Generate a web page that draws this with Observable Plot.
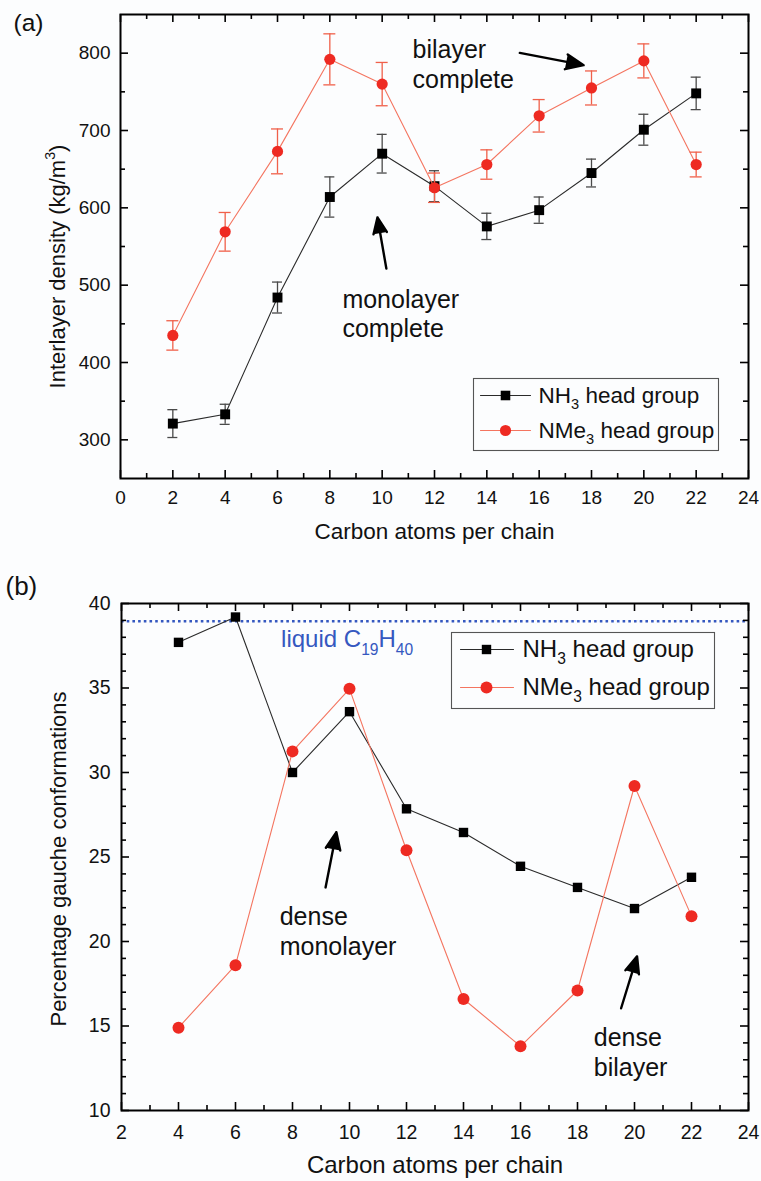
<!DOCTYPE html>
<html>
<head>
<meta charset="utf-8">
<script src="https://cdn.jsdelivr.net/npm/d3@7"></script>
<script src="https://cdn.jsdelivr.net/npm/@observablehq/plot@0.6"></script>
<style>
  body { margin: 0; background: #fcfdfe; }
  #chart { width: 761px; }
  #chart svg { display: block; }
</style>
</head>
<body>
<div id="chart"></div>
<script>
// ---- Panel (a): interlayer density vs. chain length ----
const carbonA = [2, 4, 6, 8, 10, 12, 14, 16, 18, 20, 22];
const densityNH3 = [321, 333, 484, 614, 670, 628, 576, 597, 645, 701, 748];
const errDensityNH3 = [18, 13, 20, 26, 25, 20, 17, 17, 18, 20, 21];
const densityNMe3 = [435, 569, 673, 792, 760, 626, 656, 719, 755, 790, 656];
const errDensityNMe3 = [19, 25, 29, 33, 28, 19, 19, 21, 22, 22, 16];

// ---- Panel (b): gauche conformations vs. chain length ----
const carbonB = [4, 6, 8, 10, 12, 14, 16, 18, 20, 22];
const gaucheNH3 = [37.7, 39.2, 30.0, 33.6, 27.85, 26.45, 24.45, 23.2, 21.95, 23.8];
const gaucheNMe3 = [14.9, 18.6, 31.25, 34.95, 25.4, 16.6, 13.8, 17.1, 29.2, 21.5];
const liquidGauche = 38.95;

// Series labels (_{..} = subscript, ^{..} = superscript)
const seriesLabels = ["NH_{3} head group", "NMe_{3} head group"];

// Axis ticks
const xMajorA = [0, 2, 4, 6, 8, 10, 12, 14, 16, 18, 20, 22, 24];
const xMinorA = [1, 3, 5, 7, 9, 11, 13, 15, 17, 19, 21, 23];
const yMajorA = [300, 400, 500, 600, 700, 800];
const yMinorA = [350, 450, 550, 650, 750];
const xMajorB = [2, 4, 6, 8, 10, 12, 14, 16, 18, 20, 22, 24];
const xMinorB = [3, 5, 7, 9, 11, 13, 15, 17, 19, 21, 23];
const yMajorB = [10, 15, 20, 25, 30, 35, 40];
const yMinorB = [11, 12, 13, 14, 16, 17, 18, 19, 21, 22, 23, 24, 26, 27, 28, 29, 31, 32, 33, 34, 36, 37, 38, 39];

// Annotations (in data units)
const notesA = [
  {text: "bilayer\ncomplete", x: 11.16, y: 755.6},
  {text: "monolayer\ncomplete", x: 8.48, y: 432.5}
];
const arrowsA = [
  {x1: 15.26, y1: 800.4, x2: 17.7, y2: 784.5},
  {x1: 10.16, y1: 521.5, x2: 9.82, y2: 587.6}
];
const notesB = [
  {text: "dense\nmonolayer", x: 7.55, y: 19.18},
  {text: "dense\nbilayer", x: 18.57, y: 12.05}
];
const arrowsB = [
  {x1: 9.16, y1: 23.2, x2: 9.54, y2: 26.47},
  {x1: 19.53, y1: 16.05, x2: 20.09, y2: 19.12}
];
const liquidNote = [{text: "liquid C_{19}H_{40}", x: 7.6, y: 37.4}];

// ---- styling ----
const FONT = "'Liberation Sans', Arial, Helvetica, sans-serif";
const BLACK_LINE = "#2a2a2a", BLACK_ERR = "#4a4a4a", BLACK_DOT = "#000000";
const RED_LINE = "#f47560", RED_ERR = "#f0604a", RED_DOT = "#ee2a22";
const BLUE = "#3558c0";

const rows = (xs, ys, es) => xs.map((x, i) => ({x, y: ys[i], e: es ? es[i] : 0}));

// Inward tick marks on all four sides of the frame
function innerTicks(xs, ys, len, W, H) {
  const s = {stroke: "#000", strokeWidth: 1.6};
  return [
    Plot.tickX(xs, {x: d => d, insetTop: H - len, ...s}),
    Plot.tickX(xs, {x: d => d, insetBottom: H - len, ...s}),
    Plot.tickY(ys, {y: d => d, insetRight: W - len, ...s}),
    Plot.tickY(ys, {y: d => d, insetLeft: W - len, ...s})
  ];
}

// A plain straight segment for legend keys
const segment = {draw(ctx, l) { ctx.moveTo(0, 0); ctx.lineTo(0, -l); }};

function legend(box, rowsDy, key, fontSize) {
  const marks = [Plot.frame({...box, stroke: "#555", strokeWidth: 1.1})];
  const styles = [
    {line: BLACK_LINE, dot: BLACK_DOT, symbol: "square", r: key.rSq},
    {line: RED_LINE, dot: RED_DOT, symbol: "circle", r: key.rCi}
  ];
  seriesLabels.forEach((label, i) => {
    const st = styles[i];
    marks.push(
      Plot.vector([label], {frameAnchor: "top-left", dx: key.lineDx, dy: rowsDy[i], length: key.lineLen,
        rotate: 90, anchor: "start", shape: segment, stroke: st.line, strokeWidth: 1.1}),
      Plot.dot([label], {frameAnchor: "top-left", dx: key.dotDx, dy: rowsDy[i], symbol: st.symbol,
        r: st.r, fill: st.dot}),
      Plot.text([label], {frameAnchor: "top-left", dx: key.textDx, dy: rowsDy[i], text: d => d,
        textAnchor: "start", lineAnchor: "middle", fontSize, fill: "#111"})
    );
  });
  return marks;
}

function series(data, line, err, dot, symbol, r, cap) {
  const m = [Plot.line(data, {x: "x", y: "y", stroke: line, strokeWidth: 1.1})];
  if (err) {
    m.push(
      Plot.ruleX(data, {x: "x", y1: d => d.y - d.e, y2: d => d.y + d.e, stroke: err, strokeWidth: 1.3}),
      Plot.ruleY(data, {x1: "x", x2: "x", y: d => d.y + d.e, insetLeft: -cap, insetRight: -cap, stroke: err, strokeWidth: 1.3}),
      Plot.ruleY(data, {x1: "x", x2: "x", y: d => d.y - d.e, insetLeft: -cap, insetRight: -cap, stroke: err, strokeWidth: 1.3})
    );
  }
  m.push(Plot.dot(data, {x: "x", y: "y", symbol, r, fill: dot}));
  return m;
}

// Annotation arrows with solid heads
const pointer = data => Plot.arrow(data, {x1: "x1", y1: "y1", x2: "x2", y2: "y2",
  stroke: "#000", fill: "#000", strokeWidth: 2.4, headLength: 12, headAngle: 46});

// Turn _{..} and ^{..} into real sub/superscript tspans
function applyScripts(root) {
  const NS = "http://www.w3.org/2000/svg";
  const scale = 0.65, subShift = 0.3, supShift = -0.42;
  root.querySelectorAll("text, tspan").forEach(el => {
    if (el.children.length) return;
    const s = el.textContent;
    if (!/[_^]\{/.test(s)) return;
    el.textContent = "";
    const re = /([_^])\{([^}]*)\}/g;
    let last = 0, m, pending = 0;
    const plain = str => {
      if (!str) return;
      const t = document.createElementNS(NS, "tspan");
      if (pending) t.setAttribute("dy", `${-pending}em`);
      pending = 0;
      t.textContent = str;
      el.appendChild(t);
    };
    while ((m = re.exec(s))) {
      plain(s.slice(last, m.index));
      const shift = m[1] === "_" ? subShift : supShift;
      const t = document.createElementNS(NS, "tspan");
      t.style.fontSize = `${scale * 100}%`;
      t.setAttribute("dy", `${(shift - pending) / scale}em`);
      pending = shift;
      t.textContent = m[2];
      el.appendChild(t);
      last = re.lastIndex;
    }
    plain(s.slice(last));
  });
}

const chart = document.getElementById("chart");

// ---------- Panel (a) ----------
{
  const W = 761, H = 570, mt = 14, mb = 92, ml = 120, mr = 13;
  const fw = W - ml - mr, fh = H - mt - mb;
  const nh3 = rows(carbonA, densityNH3, errDensityNH3);
  const nme3 = rows(carbonA, densityNMe3, errDensityNMe3);
  const svg = Plot.plot({
    width: W, height: H, marginTop: mt, marginBottom: mb, marginLeft: ml, marginRight: mr,
    x: {domain: [0, 24], label: null},
    y: {domain: [250, 850], label: null},
    style: {fontFamily: FONT, color: "#111", background: "transparent", overflow: "visible"},
    marks: [
      ...series(nh3, BLACK_LINE, BLACK_ERR, BLACK_DOT, "square", 5.6, 5),
      ...series(nme3, RED_LINE, RED_ERR, RED_DOT, "circle", 5.6, 6),
      Plot.frame({stroke: "#000", strokeWidth: 2}),
      ...innerTicks(xMajorA, yMajorA, 8, fw, fh),
      ...innerTicks(xMinorA, yMinorA, 5, fw, fh),
      Plot.axisX(xMajorA, {tickSize: 0, tickPadding: 12, fontSize: 19, label: null}),
      Plot.axisY(yMajorA, {anchor: "left", tickSize: 0, tickPadding: 10, fontSize: 19, label: null}),
      Plot.text(["Carbon atoms per chain"], {frameAnchor: "bottom", dy: 60, lineAnchor: "bottom", fontSize: 22.5, text: d => d}),
      Plot.text(["Interlayer density (kg/m^{3})"], {frameAnchor: "left", dx: -63, dy: 20, rotate: -90,
        textAnchor: "middle", lineAnchor: "middle", fontSize: 22, text: d => d}),
      Plot.text(["(a)"], {frameAnchor: "top-left", dx: -107, dy: 16, lineAnchor: "bottom", textAnchor: "start", fontSize: 24.5, text: d => d}),
      pointer(arrowsA),
      Plot.text(notesA, {x: "x", y: "y", text: "text", textAnchor: "start", lineAnchor: "bottom", lineHeight: 1.17, fontSize: 25, fill: "#111"}),
      ...legend({insetLeft: 353, insetRight: 30, insetTop: 364, insetBottom: 28}, [381, 416],
        {lineDx: 360, lineLen: 50, dotDx: 385, textDx: 418, rSq: 5.4, rCi: 5.6}, 22.5)
    ]
  });
  applyScripts(svg);
  chart.appendChild(svg);
}

// ---------- Panel (b) ----------
{
  const W = 761, H = 611, mt = 33, mb = 71, ml = 121, mr = 13;
  const fw = W - ml - mr, fh = H - mt - mb;
  const nh3 = rows(carbonB, gaucheNH3);
  const nme3 = rows(carbonB, gaucheNMe3);
  const svg = Plot.plot({
    width: W, height: H, marginTop: mt, marginBottom: mb, marginLeft: ml, marginRight: mr,
    x: {domain: [2, 24], label: null},
    y: {domain: [10, 40], label: null},
    style: {fontFamily: FONT, color: "#111", background: "transparent", overflow: "visible"},
    marks: [
      Plot.ruleY([liquidGauche], {y: d => d, stroke: BLUE, strokeWidth: 2.6, strokeDasharray: "2.6,3.1"}),
      ...series(nh3, BLACK_LINE, null, BLACK_DOT, "square", 5.3, 0),
      ...series(nme3, RED_LINE, null, RED_DOT, "circle", 6, 0),
      Plot.frame({stroke: "#000", strokeWidth: 2}),
      ...innerTicks(xMajorB, yMajorB, 8, fw, fh),
      ...innerTicks(xMinorB, yMinorB, 5, fw, fh),
      Plot.axisX(xMajorB, {tickSize: 0, tickPadding: 15, fontSize: 19.5, label: null}),
      Plot.axisY(yMajorB, {anchor: "left", tickSize: 0, tickPadding: 11, fontSize: 19.5, label: null}),
      Plot.text(["Carbon atoms per chain"], {frameAnchor: "bottom", dy: 62.5, lineAnchor: "bottom", fontSize: 24, text: d => d}),
      Plot.text(["Percentage gauche conformations"], {frameAnchor: "left", dx: -63, dy: 2, rotate: -90,
        textAnchor: "middle", lineAnchor: "middle", fontSize: 22, text: d => d}),
      Plot.text(["(b)"], {frameAnchor: "top-left", dx: -116, dy: -9, lineAnchor: "bottom", textAnchor: "start", fontSize: 26, text: d => d}),
      Plot.text(liquidNote, {x: "x", y: "y", text: "text", textAnchor: "start", lineAnchor: "bottom", fontSize: 24, fill: BLUE}),
      pointer(arrowsB),
      Plot.text(notesB, {x: "x", y: "y", text: "text", textAnchor: "start", lineAnchor: "bottom", lineHeight: 1.2, fontSize: 25, fill: "#111"}),
      ...legend({insetLeft: 330, insetRight: 34, insetTop: 29, insetBottom: 402}, [46, 84],
        {lineDx: 339, lineLen: 53, dotDx: 365, textDx: 401, rSq: 5.3, rCi: 6}, 24)
    ]
  });
  applyScripts(svg);
  chart.appendChild(svg);
}
</script>
</body>
</html>
